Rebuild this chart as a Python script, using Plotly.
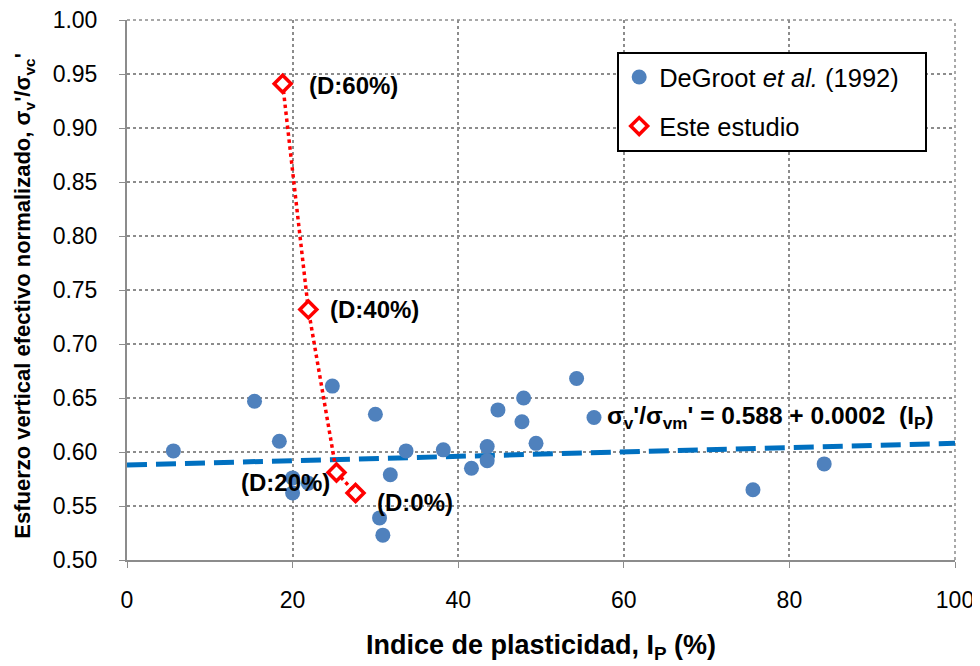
import plotly.graph_objects as go

# DeGroot et al. (1992)
ip_degroot = [5.6, 15.4, 18.4, 24.8, 20.0, 20.0, 21.9, 30.0, 33.7, 31.8, 30.5, 30.9,
              38.2, 41.6, 43.5, 43.5, 44.8, 47.9, 47.7, 49.4, 54.3, 56.4, 75.6, 84.2]
sv_degroot = [0.601, 0.647, 0.610, 0.661, 0.576, 0.562, 0.571, 0.635, 0.601, 0.579, 0.539, 0.523,
              0.602, 0.585, 0.605, 0.592, 0.639, 0.650, 0.628, 0.608, 0.668, 0.632, 0.565, 0.589]

# Este estudio
ip_estudio = [18.8, 21.9, 25.3, 27.6]
sv_estudio = [0.941, 0.732, 0.581, 0.562]
etiquetas = ["(D:60%)", "(D:40%)", "(D:20%)", "(D:0%)"]

# regresion
intercepto = 0.588
pendiente = 0.0002
trend_x = [0, 100]
trend_y = [intercepto + pendiente * x for x in trend_x]

x_ticks = [0, 20, 40, 60, 80, 100]
y_ticks = [0.50, 0.55, 0.60, 0.65, 0.70, 0.75, 0.80, 0.85, 0.90, 0.95, 1.00]

fuente = "Liberation Sans, Arial, sans-serif"
gris = "#8c8c8c"

fig = go.Figure()

fig.add_trace(go.Scatter(
    x=trend_x, y=trend_y, mode="lines",
    line=dict(color="#0070C0", width=5, dash="20px,9px"),
    showlegend=False, hoverinfo="skip"
))

fig.add_trace(go.Scatter(
    x=ip_degroot, y=sv_degroot, mode="markers",
    name="DeGroot <i>et al.</i> (1992)&nbsp;&nbsp;&nbsp;",
    marker=dict(color="#4F81BD", size=15, symbol="circle"),
    legendgroup="a"
))

fig.add_trace(go.Scatter(
    x=ip_estudio, y=sv_estudio, mode="lines",
    line=dict(color="#FF0000", width=3.5, dash="dot"),
    showlegend=False, hoverinfo="skip"
))

fig.add_trace(go.Scatter(
    x=ip_estudio, y=sv_estudio, mode="markers",
    name="Este estudio",
    marker=dict(color="white", size=13, symbol="diamond",
                line=dict(color="#FF0000", width=3.5)),
    legendgroup="b"
))

# etiquetas de los puntos
offsets = [(24, 2, "left"), (20, 0, "left"), (-4, 10, "right"), (19, 9, "left")]
for x, y, t, (ax, ay, xa) in zip(ip_estudio, sv_estudio, etiquetas, offsets):
    fig.add_annotation(x=x, y=y, text="<b>" + t + "</b>", showarrow=True,
                       arrowcolor="rgba(0,0,0,0)", ax=ax, ay=ay, xanchor=xa,
                       font=dict(family=fuente, size=24, color="black"))

fig.add_annotation(
    x=57.7, y=0.632, xanchor="left", yanchor="middle", showarrow=False,
    text="<b>σ<sub>v</sub>'/σ<sub>vm</sub>' = 0.588 + 0.0002  (I<sub>P</sub>)</b>",
    font=dict(family=fuente, size=24.5, color="black")
)

# titulo del eje y como anotacion para poder acercarlo al borde
fig.add_annotation(
    xref="paper", yref="paper", x=-0.124, y=0.49, textangle=-90,
    xanchor="center", yanchor="middle", showarrow=False,
    text="<b>Esfuerzo vertical efectivo normalizado, σ<sub>v</sub>'/σ<sub>vc</sub>'</b>",
    font=dict(family=fuente, size=22, color="black")
)

# lineas punteadas del borde superior y derecho
fig.add_shape(type="line", xref="paper", yref="paper", x0=0, x1=1, y0=1, y1=1,
              line=dict(color=gris, width=1.5, dash="dot"), layer="below")
fig.add_shape(type="line", xref="paper", yref="paper", x0=1, x1=1, y0=0, y1=1,
              line=dict(color=gris, width=1.5, dash="dot"), layer="below")

# la pagina tiene 8px de margen en el body
fig.update_layout(
    width=980, height=666,
    margin=dict(l=119, r=33, t=12, b=114),
    paper_bgcolor="white", plot_bgcolor="white",
    font=dict(family=fuente, size=23, color="black"),
    legend=dict(
        x=0.592, y=0.941, xanchor="left", yanchor="top",
        bordercolor="black", borderwidth=2, bgcolor="white",
        font=dict(family=fuente, size=25.5, color="black"),
        tracegroupgap=13, traceorder="grouped"
    ),
    xaxis=dict(
        range=[0, 100], tickvals=x_ticks, showgrid=True, automargin=False,
        gridcolor=gris, griddash="dot", gridwidth=1.5,
        showline=True, linecolor=gris, linewidth=2,
        ticks="outside", ticklen=6, tickcolor=gris, zeroline=False,
        tickfont=dict(size=23), ticklabelstandoff=12, ticklabeloverflow="allow",
        title=dict(text="<b>Indice de plasticidad, I<sub>P</sub> (%)</b>",
                   font=dict(size=27), standoff=24)
    ),
    yaxis=dict(
        range=[0.50, 1.00], tickvals=y_ticks, tickformat=".2f", showgrid=True,
        automargin=False,
        gridcolor=gris, griddash="dot", gridwidth=1.5,
        showline=True, linecolor=gris, linewidth=2,
        ticks="outside", ticklen=6, tickcolor=gris, zeroline=False,
        tickfont=dict(size=23), ticklabelstandoff=17, ticklabeloverflow="allow"
    )
)

fig.write_html("out.html")
